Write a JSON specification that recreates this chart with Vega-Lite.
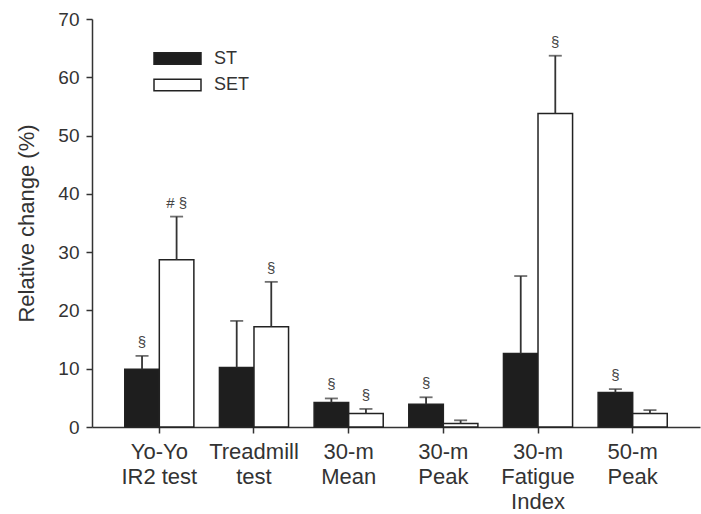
{
  "$schema": "https://vega.github.io/schema/vega-lite/v6.json",
  "autosize": "none",
  "width": 608,
  "height": 408,
  "padding": {"left": 92, "top": 19, "right": 1, "bottom": 87},
  "background": "white",
  "config": {
    "view": {"stroke": null},
    "font": "Liberation Sans",
    "axis": {"grid": false, "domainColor": "#333", "tickColor": "#333", "labelColor": "#333", "titleColor": "#333", "domainWidth": 1.5, "tickWidth": 1.5}
  },
  "data": {
    "values": [
      {"cat": "Yo-Yo|IR2 test", "group": "ST", "value": 9.9, "err": 12.2, "ann": "§"},
      {"cat": "Yo-Yo|IR2 test", "group": "SET", "value": 28.7, "err": 36.1, "ann": "#  §"},
      {"cat": "Treadmill|test", "group": "ST", "value": 10.2, "err": 18.2, "ann": ""},
      {"cat": "Treadmill|test", "group": "SET", "value": 17.2, "err": 24.9, "ann": "§"},
      {"cat": "30-m|Mean", "group": "ST", "value": 4.2, "err": 4.9, "ann": "§"},
      {"cat": "30-m|Mean", "group": "SET", "value": 2.3, "err": 3.1, "ann": "§"},
      {"cat": "30-m|Peak", "group": "ST", "value": 3.9, "err": 5.1, "ann": "§"},
      {"cat": "30-m|Peak", "group": "SET", "value": 0.6, "err": 1.15, "ann": ""},
      {"cat": "30-m|Fatigue|Index", "group": "ST", "value": 12.6, "err": 25.9, "ann": ""},
      {"cat": "30-m|Fatigue|Index", "group": "SET", "value": 53.8, "err": 63.7, "ann": "§"},
      {"cat": "50-m|Peak", "group": "ST", "value": 5.9, "err": 6.5, "ann": "§"},
      {"cat": "50-m|Peak", "group": "SET", "value": 2.3, "err": 2.9, "ann": ""}
    ]
  },
  "encoding": {
    "x": {
      "field": "cat", "type": "nominal", "sort": null,
      "scale": {"paddingInner": 0.27, "paddingOuter": 0.346},
      "axis": {"title": null, "labelAngle": 0, "labelExpr": "split(datum.value, '|')", "labelFontSize": 22, "labelLineHeight": 25, "tickSize": 6, "labelPadding": 8, "labelBaseline": "top"}
    },
    "xOffset": {"field": "group", "type": "nominal", "sort": ["ST", "SET"], "scale": {"paddingInner": 0, "paddingOuter": 0}}
  },
  "layer": [
    {
      "mark": {"type": "bar", "stroke": "#222", "strokeWidth": 1.5},
      "encoding": {
        "y": {
          "field": "value", "type": "quantitative",
          "scale": {"domain": [0, 70], "nice": false},
          "axis": {"title": "Relative change (%)", "values": [0, 10, 20, 30, 40, 50, 60, 70], "labelFontSize": 19, "titleFontSize": 22, "titleFontWeight": "normal", "tickSize": 6, "labelPadding": 7, "titlePadding": 19}
        },
        "fill": {
          "field": "group", "type": "nominal", "sort": ["ST", "SET"],
          "scale": {"domain": ["ST", "SET"], "range": ["#1e1e1e", "#ffffff"]},
          "legend": {
            "title": null, "orient": "none", "legendX": 73, "legendY": 27,
            "symbolType": "M-2,-0.5H2V0.5H-2Z", "symbolSize": 552,
            "symbolStrokeColor": "#222", "symbolStrokeWidth": 1.5,
            "labelFontSize": 18, "labelColor": "#333", "labelOffset": 24, "rowPadding": 4.5
          }
        }
      }
    },
    {
      "mark": {"type": "rule", "color": "#333", "strokeWidth": 1.8},
      "encoding": {
        "y": {"field": "value", "type": "quantitative"},
        "y2": {"field": "err"}
      }
    },
    {
      "mark": {"type": "tick", "color": "#333", "thickness": 1.8, "size": 13},
      "encoding": {
        "y": {"field": "err", "type": "quantitative"}
      }
    },
    {
      "mark": {"type": "text", "fontSize": 15, "color": "#444", "baseline": "alphabetic", "dy": -9},
      "encoding": {
        "y": {"field": "err", "type": "quantitative"},
        "text": {"field": "ann"}
      }
    }
  ]
}
